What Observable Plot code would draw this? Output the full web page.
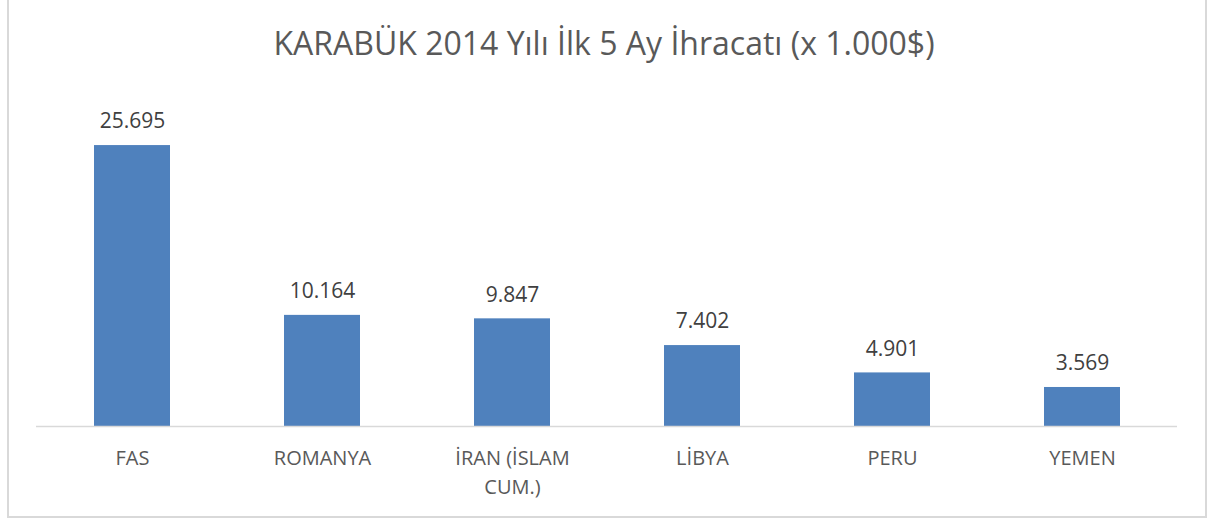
<!DOCTYPE html>
<html>
<head>
<meta charset="utf-8">
<script src="https://cdn.jsdelivr.net/npm/d3@7"></script>
<script src="https://cdn.jsdelivr.net/npm/@observablehq/plot@0.6"></script>
<style>
  html, body { margin: 0; padding: 0; background: #fff; }
  #wrap { position: relative; width: 1208px; height: 519px; overflow: hidden; font-family: "Open Sans", sans-serif; }
  #frame { position: absolute; left: 7px; top: -2px; width: 1196px; height: 516px; border: 2px solid #d9d9d9; box-sizing: content-box; pointer-events: none; }
  #title { position: absolute; left: 0; top: 0; width: 1208px; height: 90px; line-height: 86px; text-align: center; font-size: 32px; font-weight: 400; color: #595959; white-space: nowrap; }
  #chart { position: absolute; left: 0; top: 90px; }
</style>
</head>
<body>
<div id="wrap">
  <div id="title">KARABÜK 2014 Yılı İlk 5 Ay İhracatı (x 1.000$)</div>
  <div id="chart"></div>
  <div id="frame"></div>
</div>
<script>
const categories = ["FAS", "ROMANYA", "İRAN (İSLAM CUM.)", "LİBYA", "PERU", "YEMEN"];
const values = [25695, 10164, 9847, 7402, 4901, 3569];
const valueLabels = ["25.695", "10.164", "9.847", "7.402", "4.901", "3.569"];

const data = categories.map((c, i) => ({ cat: c, value: values[i], label: valueLabels[i] }));

const chart = Plot.plot({
  width: 1208,
  height: 429,
  marginLeft: 36,
  marginRight: 31,
  marginTop: 8,
  marginBottom: 93,
  style: { fontFamily: "'Open Sans', sans-serif", background: "transparent" },
  x: { domain: categories, paddingInner: 0.6, paddingOuter: 0.3, label: null },
  y: { domain: [0, 30000], axis: null },
  marks: [
    Plot.barY(data, { x: "cat", y: "value", fill: "#4F81BD" }),
    Plot.ruleY([0], { stroke: "#d9d9d9", strokeWidth: 1.5 }),
    Plot.text(data, { x: "cat", y: "value", text: "label", dy: -24, fontSize: 21, fill: "#404040" }),
    Plot.axisX({
      tickSize: 0,
      tickPadding: 18,
      fontSize: 20,
      lineHeight: 1.45,
      color: "#595959",
      label: null,
      tickFormat: d => d.replace("(İSLAM ", "(İSLAM\n")
    })
  ]
});
document.getElementById("chart").appendChild(chart);
</script>
</body>
</html>
